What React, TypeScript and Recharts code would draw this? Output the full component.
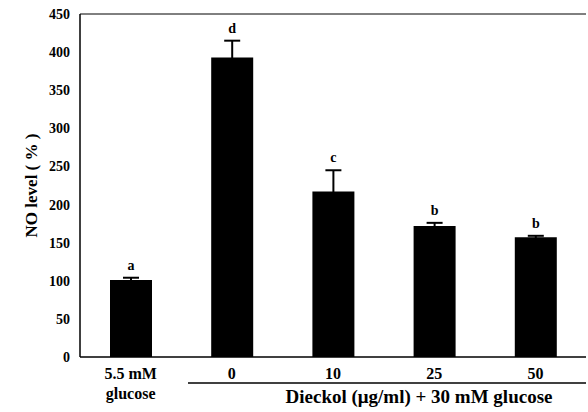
import React from 'react';
import {
  BarChart,
  Bar,
  XAxis,
  YAxis,
  ErrorBar,
  LabelList,
  ReferenceLine,
} from 'recharts';

// groups along the x axis (first one is the normal-glucose control)
const groups = ['5.5 mM\nglucose', '0', '10', '25', '50'];
const noLevel = [101, 393, 217, 172, 157];
const sem = [3, 22, 28, 4, 2];
const letters = ['a', 'd', 'c', 'b', 'b'];
const yTicks = [0, 50, 100, 150, 200, 250, 300, 350, 400, 450];

const data = groups.map((g, i) => ({
  group: g,
  value: noLevel[i],
  err: sem[i],
  sig: letters[i],
}));

const FONT = '"Liberation Serif", "Times New Roman", serif';

const GroupTick = (props: any) => {
  const { x, y, payload } = props;
  const lines = String(payload.value).split('\n');
  return (
    <text
      x={x}
      y={y}
      textAnchor="middle"
      fontFamily={FONT}
      fontWeight="bold"
      fontSize={16}
      fill="#000"
    >
      {lines.map((line, i) => (
        <tspan key={i} x={x} dy={i === 0 ? 14 : 20}>
          {line}
        </tspan>
      ))}
    </text>
  );
};

// bracket line + shared caption under the Dieckol groups
const DieckolCaption = (props: any) => {
  const { viewBox } = props;
  const { x, y, width } = viewBox;
  return (
    <g>
      <line x1={x + 108} x2={x + width} y1={y + 26} y2={y + 26} stroke="#000" strokeWidth={1.5} />
      <text
        x={x + 339}
        y={y + 46}
        textAnchor="middle"
        fontFamily={FONT}
        fontWeight="bold"
        fontSize={19}
        fill="#000"
      >
        Dieckol (μg/ml) + 30 mM glucose
      </text>
    </g>
  );
};

const YTitle = (props: any) => {
  const { viewBox } = props;
  const cx = 33;
  const cy = viewBox.y + viewBox.height / 2;
  return (
    <text
      x={cx}
      y={cy}
      transform={`rotate(-90, ${cx}, ${cy})`}
      textAnchor="middle"
      dominantBaseline="middle"
      fontFamily={FONT}
      fontWeight="bold"
      fontSize={17}
      fill="#000"
    >
      NO level ( % )
    </text>
  );
};

// significance letter sits just above the error bar cap
const SigLabel = (props: any) => {
  const { x, y, width, height, value, index } = props;
  const perUnit = height / noLevel[index];
  const capY = y - sem[index] * perUnit;
  return (
    <text
      x={x + width / 2}
      y={capY - 11}
      textAnchor="middle"
      dominantBaseline="middle"
      fontFamily={FONT}
      fontWeight="bold"
      fontSize={14}
      fill="#000"
    >
      {value}
    </text>
  );
};

export default function App() {
  return (
    <div style={{ position: 'absolute', left: 0, top: 0, background: '#fff' }}>
      <BarChart
        width={588}
        height={412}
        data={data}
        margin={{ top: 14, right: 2, bottom: 0, left: 0 }}
      >
        <XAxis
          dataKey="group"
          height={55}
          interval={0}
          tick={<GroupTick />}
          tickLine={false}
          axisLine={{ stroke: '#000', strokeWidth: 1.5 }}
          label={<DieckolCaption />}
        />
        <YAxis
          yAxisId="left"
          width={80}
          domain={[0, 450]}
          ticks={yTicks}
          tickLine={false}
          tickSize={8}
          axisLine={{ stroke: '#000', strokeWidth: 1.5 }}
          tick={{ fontFamily: FONT, fontWeight: 'bold', fontSize: 14, fill: '#000' }}
          label={<YTitle />}
        />
        <YAxis
          yAxisId="right"
          orientation="right"
          width={0}
          domain={[0, 450]}
          tick={false}
          tickLine={false}
          axisLine={{ stroke: '#000', strokeWidth: 1 }}
        />
        <ReferenceLine yAxisId="left" y={450} stroke="#000" strokeWidth={1} />
        <Bar
          yAxisId="left"
          dataKey="value"
          fill="#000"
          barSize={42}
          isAnimationActive={false}
        >
          <ErrorBar dataKey="err" width={8} stroke="#000" strokeWidth={2} direction="y" />
          <LabelList dataKey="sig" content={<SigLabel />} />
        </Bar>
      </BarChart>
    </div>
  );
}
